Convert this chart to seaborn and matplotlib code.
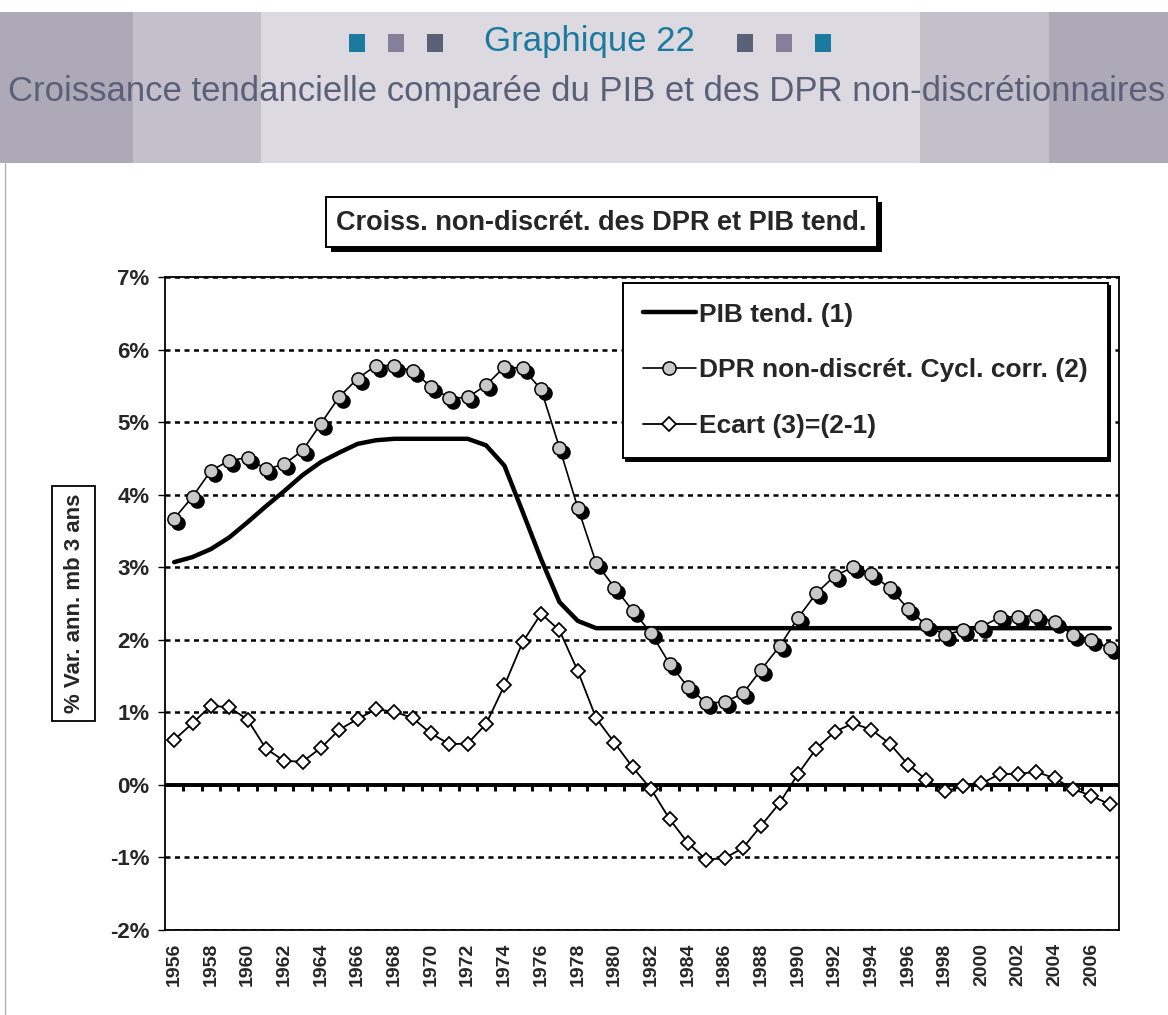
import numpy as np
import matplotlib
matplotlib.use("Agg")
import matplotlib.pyplot as plt
import seaborn as sns
from matplotlib.patches import Rectangle
from matplotlib.lines import Line2D
from matplotlib.transforms import offset_copy

# data (% var. ann., moyenne mobile 3 ans)
years = list(range(1956, 2008))
pib_tend = [3.07, 3.14, 3.25, 3.41, 3.62, 3.84, 4.05, 4.27, 4.45, 4.58,
            4.70, 4.75, 4.77, 4.77, 4.77, 4.77, 4.77, 4.68, 4.40, 3.76,
            3.11, 2.52, 2.26, 2.16, 2.16, 2.16, 2.16, 2.16, 2.16, 2.16,
            2.16, 2.16, 2.16, 2.16, 2.16, 2.16, 2.16, 2.16, 2.16, 2.16,
            2.16, 2.16, 2.16, 2.16, 2.16, 2.16, 2.16, 2.16, 2.16, 2.16,
            2.16, 2.16]
dpr_corr = [3.67, 3.97, 4.33, 4.47, 4.51, 4.35, 4.42, 4.61, 4.98, 5.35,
            5.60, 5.78, 5.78, 5.70, 5.49, 5.33, 5.34, 5.51, 5.76, 5.74,
            5.45, 4.65, 3.82, 3.06, 2.72, 2.40, 2.09, 1.67, 1.35, 1.13,
            1.14, 1.26, 1.59, 1.91, 2.30, 2.64, 2.88, 3.00, 2.91, 2.71,
            2.43, 2.20, 2.07, 2.13, 2.18, 2.31, 2.32, 2.33, 2.24, 2.07,
            2.00, 1.88]
ecart = [0.62, 0.85, 1.09, 1.07, 0.90, 0.50, 0.33, 0.32, 0.51, 0.76,
         0.91, 1.04, 1.01, 0.92, 0.71, 0.56, 0.57, 0.84, 1.37, 1.97,
         2.36, 2.13, 1.57, 0.92, 0.58, 0.24, -0.06, -0.47, -0.80, -1.03,
         -1.01, -0.87, -0.56, -0.25, 0.15, 0.50, 0.73, 0.85, 0.76, 0.57,
         0.28, 0.07, -0.09, -0.02, 0.02, 0.15, 0.15, 0.18, 0.09, -0.06,
         -0.15, -0.27]
y_ticks = list(range(-2, 8))

labels = ["PIB tend. (1)", "DPR non-discrét. Cycl. corr. (2)", "Ecart (3)=(2-1)"]

sns.set_style("white")
plt.rcParams['font.family'] = ['Liberation Sans', 'DejaVu Sans']

W, H = 1168, 1015
def fx(x):
    return x / W
def fy(y):
    return 1 - y / H

fig = plt.figure(figsize=(W / 100, H / 100), dpi=100)

# header band
band = [(0, 133, '#ADA9B7'), (133, 261, '#C3C0CB'), (261, 920, '#DCDAE0'),
        (920, 1049, '#C3C0CB'), (1049, 1168, '#ADA9B7')]
for x0, x1, c in band:
    fig.add_artist(Rectangle((fx(x0), fy(163)), (x1 - x0) / W, 151 / H,
                             transform=fig.transFigure, color=c, lw=0, zorder=0))
fig.add_artist(Line2D([fx(5), fx(5)], [fy(163), 0], transform=fig.transFigure,
                      color='#B4B2BE', lw=1))

teal, mauve, slate = '#1B7A9E', '#85809A', '#5A6078'
for cx, c in [(357, teal), (396, mauve), (435, slate),
              (745, slate), (784, mauve), (823, teal)]:
    fig.add_artist(Rectangle((fx(cx - 8), fy(52)), 16 / W, 18 / H,
                             transform=fig.transFigure, color=c, lw=0))
fig.text(fx(589), fy(41), "Graphique 22", color=teal, fontsize=25,
         ha='center', va='center')
fig.text(fx(587), fy(91),
         "Croissance tendancielle comparée du PIB et des DPR non-discrétionnaires",
         color=slate, fontsize=25, ha='center', va='center')

# boxed chart title with shadow
fig.add_artist(Rectangle((fx(331), fy(252)), 551 / W, 50 / H,
                         transform=fig.transFigure, color='black', lw=0))
fig.add_artist(Rectangle((fx(326), fy(247)), 551 / W, 50 / H,
                         transform=fig.transFigure, facecolor='white',
                         edgecolor='black', lw=1.4))
fig.text(fx(601.5), fy(223), "Croiss. non-discrét. des DPR et PIB tend.",
         fontsize=19.5, fontweight='bold', ha='center', va='center')

# boxed y label
fig.add_artist(Rectangle((fx(52), fy(721)), 43 / W, 235 / H,
                         transform=fig.transFigure, facecolor='white',
                         edgecolor='black', lw=1.3))
fig.text(fx(74), fy(603), "% Var. ann. mb 3 ans", rotation=90,
         fontsize=16, fontweight='bold', ha='center', va='center')

ax = fig.add_axes([fx(165), fy(930), (1119 - 165) / W, (930 - 277) / H])

# shadows behind the DPR circles
shadow = offset_copy(ax.transData, fig=fig, x=4, y=-4, units='dots')
ax.plot(years, dpr_corr, linestyle='none', marker='o', markersize=9.5,
        color='black', transform=shadow, zorder=3)

sns.lineplot(x=years, y=pib_tend, ax=ax, color='black', lw=3.2,
             label=labels[0], zorder=4)
sns.lineplot(x=years, y=dpr_corr, ax=ax, color='black', lw=1.2, marker='o',
             markersize=9.5, markerfacecolor='#C8C8C8', markeredgecolor='black',
             markeredgewidth=1.1, label=labels[1], zorder=5)
sns.lineplot(x=years, y=ecart, ax=ax, color='black', lw=1.3, marker='D',
             markersize=7, markerfacecolor='white', markeredgecolor='black',
             markeredgewidth=1.3, label=labels[2], zorder=5)

# zero line with category ticks
ax.axhline(0, color='black', lw=2.8, zorder=2)
ax.vlines(np.array(years) + 0.5, -0.08, 0, color='black', lw=2.2, zorder=2)

ax.set_xlim(years[0] - 0.5, years[-1] + 0.5)
ax.set_ylim(-2, 7)
ax.set_yticks(y_ticks)
ax.set_yticklabels([f"{t}%" for t in y_ticks], fontsize=16, fontweight='bold')
ax.set_xticks(years[::2])
ax.set_xticklabels([str(y) for y in years[::2]], rotation=90, fontsize=14,
                   fontweight='bold')
ax.tick_params(axis='x', length=0, pad=9)
ax.tick_params(axis='y', left=True, length=5, width=1, pad=6, color='black')
ax.set_xlabel("")
ax.set_ylabel("")
ax.set_axisbelow(True)
ax.yaxis.grid(True, color='black', lw=1.8, linestyle=(0, (2, 1.8)))
ax.xaxis.grid(False)
for s in ax.spines.values():
    s.set_color('black')
    s.set_linewidth(1.3)

h, l = ax.get_legend_handles_labels()
leg = ax.legend(h, l, loc='upper right', bbox_to_anchor=(0.988, 0.991),
                borderaxespad=0, prop={'weight': 'bold', 'size': 19},
                frameon=True, fancybox=False, framealpha=1,
                shadow={'color': 'black', 'alpha': 1},
                handlelength=2.0, handletextpad=0.12, labelspacing=1.2,
                borderpad=0.75)
leg.get_frame().set_edgecolor('black')
leg.get_frame().set_linewidth(1.4)
leg.set_zorder(10)

fig.savefig("out.png", dpi=100)
